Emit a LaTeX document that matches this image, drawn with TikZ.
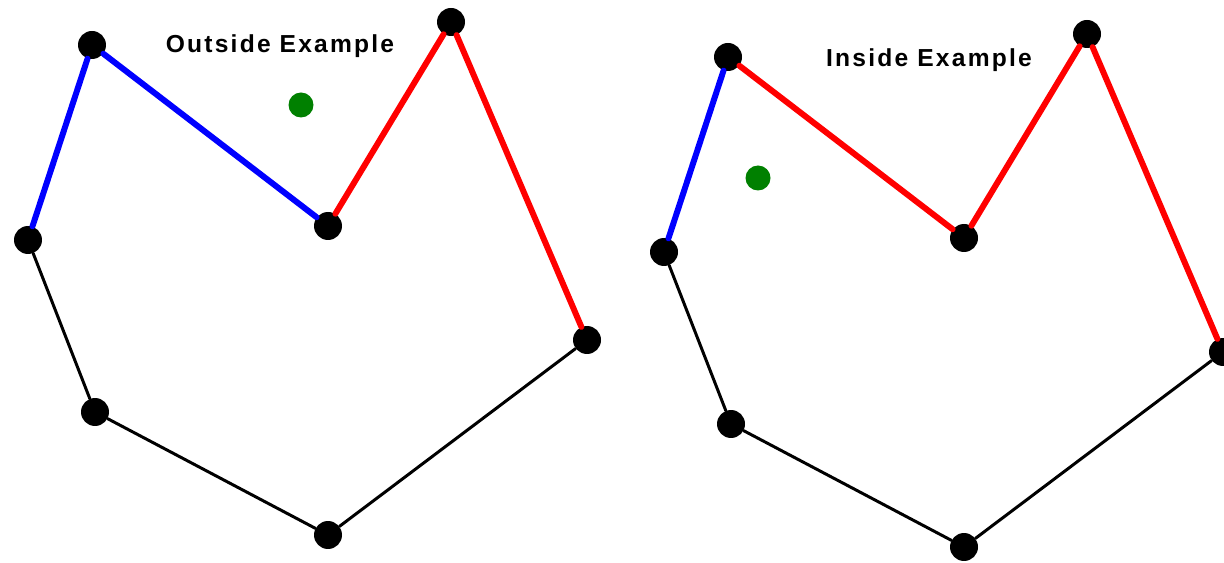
\documentclass[tikz,border=0pt]{standalone}
\usepackage{fontspec}
\setmainfont{Liberation Sans}
\newfontfamily\capfont[LetterSpace=9]{Liberation Sans}

\tikzset{
  vtx/.style={circle,fill=black,inner sep=0pt,minimum size=0.56cm},
  probe/.style={circle,fill=green!50!black,inner sep=0pt,minimum size=0.5cm},
  hot/.style={line width=3.4pt,line cap=round},
  rim/.style={line width=1.7pt,line cap=round},
  caption/.style={font=\capfont\fontsize{14}{16}\selectfont\bfseries,inner sep=0pt}
}

\begin{document}
\begin{tikzpicture}[x=0.02cm,y=-0.02cm]
  \useasboundingbox (0,0) rectangle (1224,563);
  \foreach \lab/\dx/\dy/\gx/\gy/\tx/\ty/\abcol [count=\i] in {%
    Outside/0/0/301/105/280/46/blue,%
    Inside/636/12/758/178/929/60/red%
  } {
    \begin{scope}[shift={(\dx,\dy)}]
      % 顶点
      \node[vtx] (p\i a) at (92,45) {};
      \node[vtx] (p\i b) at (328,226) {};
      \node[vtx] (p\i c) at (451,22) {};
      \node[vtx] (p\i d) at (587,340) {};
      \node[vtx] (p\i e) at (328,535) {};
      \node[vtx] (p\i f) at (95,412) {};
      \node[vtx] (p\i g) at (28,240) {};
      % 边
      \draw[hot,blue] (p\i g) -- (p\i a);
      \draw[hot,\abcol] (p\i a) -- (p\i b);
      \draw[hot,red] (p\i b) -- (p\i c);
      \draw[hot,red] (p\i c) -- (p\i d);
      \draw[rim] (p\i d) -- (p\i e);
      \draw[rim] (p\i e) -- (p\i f);
      \draw[rim] (p\i f) -- (p\i g);
    \end{scope}
    % 测试点
    \node[probe] (q\i) at (\gx,\gy) {};
    \node[caption] (t\i) at (\tx,\ty) {\lab{} Example};
  }
\end{tikzpicture}
\end{document}
